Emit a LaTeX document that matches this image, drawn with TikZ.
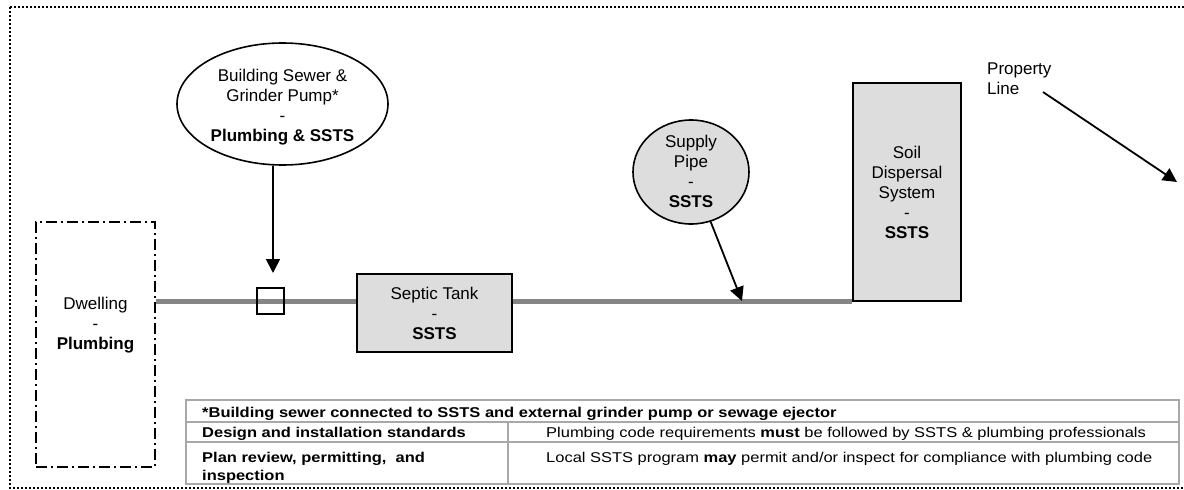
\documentclass[tikz,border=0pt]{standalone}
\usepackage{fontspec}
\setmainfont{Liberation Sans}
\newfontfamily\tabfont[FakeStretch=1.16]{Liberation Sans}
\usetikzlibrary{arrows.meta,shapes.geometric,backgrounds}
\definecolor{boxgray}{HTML}{DDDDDD}
\definecolor{pipegray}{HTML}{858585}
\definecolor{tabline}{HTML}{A8A8A8}
\begin{document}
\begin{tikzpicture}[x=1pt,y=-1pt,
  lbl/.style={font=\fontsize{17}{20}\selectfont, align=center, inner sep=0pt},
  box/.style={draw, line width=1.6pt, fill=boxgray, inner sep=0pt},
  arr/.style={-{Triangle[length=14pt,width=14pt]}, line width=1.8pt},
  pipe/.style={line width=5pt, pipegray},
  tb/.style={font=\tabfont\fontsize{14.2}{18}\selectfont, inner sep=0pt, align=left},
  tabrule/.style={tabline, line width=2pt},
  frame/.style={line width=1.5pt, dash pattern=on 2pt off 2pt},
  dashdot/.style={line width=1.5pt, dash pattern=on 11pt off 4pt on 2pt off 4pt}]
\useasboundingbox (0,0) rectangle (1184,490);
% outer dotted frame
\draw[frame] (10,7) rectangle (1196,488);
% dwelling
\node[draw, dashdot, minimum width=119pt, minimum height=245pt, inner sep=0pt] (dw) at (95.5,344.5) {};
\node[lbl] (dwt) at (95.5,325) {Dwelling\\-\\\textbf{Plumbing}};
% building sewer ellipse
\node[ellipse, draw, line width=1.6pt, fill=white, minimum width=211pt, minimum height=122pt, inner sep=0pt] (bs) at (282.5,104) {};
\node[lbl] (bst) at (282.5,107) {Building Sewer \&\\Grinder Pump*\\-\\\textbf{Plumbing \& SSTS}};
% grinder pump square
\node[draw, line width=1.5pt, minimum width=27pt, minimum height=26pt, inner sep=0pt] (sq) at (270.5,301) {};
% septic tank
\node[box, lbl, minimum width=155pt, minimum height=78pt] (st) at (434.5,313) {Septic Tank\\-\\\textbf{SSTS}};
% supply pipe circle
\node[ellipse, box, minimum width=116pt, minimum height=104pt] (sp) at (691,172) {};
\node[lbl] (spt) at (691,171.5) {Supply\\Pipe\\-\\\textbf{SSTS}};
% soil dispersal
\node[box, lbl, minimum width=108pt, minimum height=218pt] (sd) at (907,192) {Soil\\Dispersal\\System\\-\\\textbf{SSTS}};
% property line
\node[lbl, align=left, anchor=north west] (pl) at (987,63) {Property\\Line};
\coordinate (p0) at (1043,92);
\coordinate (p1) at (1177,182);
\coordinate (t1) at (273,273);
\coordinate (t2) at (742,301);
% pipe
\begin{scope}[on background layer]
\draw[pipe] (dw.east |- sq) -- (sd.west |- sq);
\end{scope}
% arrows
\draw[arr] (t1 |- bs.south) -- (t1);
\draw[arr] (sp) -- (t2);
\draw[arr] (p0) -- (p1);
% table
\draw[tabrule] (185.5,400) rectangle (1179,484);
\draw[tabrule] (185.5,421.5) -- (1179,421.5);
\draw[tabrule] (185.5,442) -- (1179,442);
\draw[tabrule] (508,421.5) -- (508,484);
\node[tb, anchor=base west] (h1) at (202,417) {\textbf{*Building sewer connected to SSTS and external grinder pump or sewage ejector}};
\node[tb, anchor=base west] (d1) at (202,437) {\textbf{Design and installation standards}};
\node[tb, anchor=base west] (d2) at (546,437) {Plumbing code requirements \textbf{must} be followed by SSTS \& plumbing professionals};
\node[tb, anchor=north west] (r1) at (202,452) {\textbf{Plan review, permitting,\ \ and}\\\textbf{inspection}};
\node[tb, anchor=base west] (r2) at (546,462) {Local SSTS program \textbf{may} permit and/or inspect for compliance with plumbing code};
\end{tikzpicture}
\end{document}
